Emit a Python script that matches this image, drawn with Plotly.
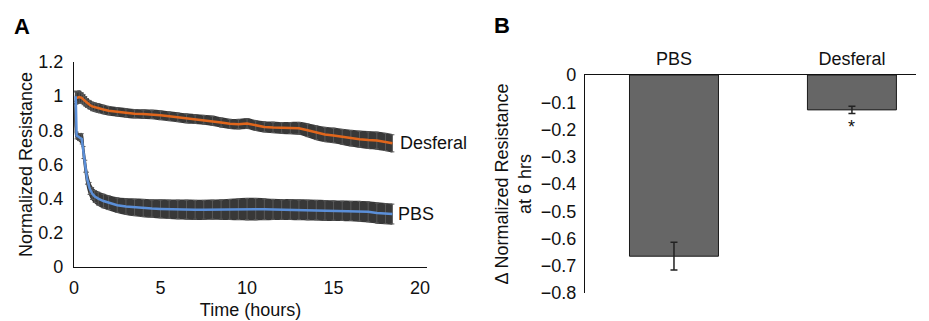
import plotly.graph_objects as go

# ---------------- Panel A data ----------------
time_h = [0.1, 0.15, 0.3, 0.45, 0.55, 0.65, 0.75, 0.9, 1.05, 1.2, 1.4, 1.7, 2.0, 2.5, 3.0,
          3.5, 4.0, 4.5, 5.0, 5.5, 6.0, 6.5, 7.0, 7.5, 8.0, 8.5, 9.0, 9.5, 10.0, 10.5,
          11.0, 11.5, 12.0, 12.5, 13.0, 13.5, 14.0, 14.5, 15.0, 15.5, 16.0, 16.5, 17.0,
          17.5, 18.0, 18.4]

pbs_mean = [1.00, 0.77, 0.76, 0.75, 0.67, 0.59, 0.52, 0.46, 0.43, 0.413, 0.40, 0.386,
            0.376, 0.362, 0.354, 0.349, 0.345, 0.342, 0.340, 0.338, 0.337, 0.336, 0.335,
            0.335, 0.336, 0.336, 0.337, 0.338, 0.339, 0.339, 0.338, 0.337, 0.336, 0.336,
            0.335, 0.334, 0.333, 0.331, 0.330, 0.329, 0.328, 0.326, 0.323, 0.316, 0.312,
            0.310]
pbs_err = [0.03, 0.02, 0.02, 0.03, 0.035, 0.035, 0.035, 0.035, 0.035, 0.035, 0.038, 0.04,
           0.04, 0.042, 0.045, 0.048, 0.05, 0.05, 0.052, 0.053, 0.054, 0.055, 0.055, 0.055,
           0.055, 0.056, 0.058, 0.06, 0.062, 0.062, 0.06, 0.058, 0.057, 0.057, 0.057,
           0.057, 0.057, 0.057, 0.056, 0.056, 0.056, 0.057, 0.058, 0.058, 0.058, 0.058]

des_mean = [0.99, 0.99, 0.995, 0.99, 0.98, 0.97, 0.96, 0.95, 0.94, 0.935, 0.93, 0.922,
            0.915, 0.908, 0.902, 0.897, 0.895, 0.893, 0.888, 0.882, 0.876, 0.870, 0.866,
            0.862, 0.856, 0.846, 0.838, 0.836, 0.840, 0.828, 0.820, 0.817, 0.814, 0.813,
            0.812, 0.800, 0.786, 0.776, 0.770, 0.762, 0.754, 0.748, 0.743, 0.740, 0.732,
            0.724]
des_err = [0.035, 0.035, 0.035, 0.03, 0.03, 0.028, 0.026, 0.025, 0.025, 0.025, 0.025,
           0.025, 0.024, 0.024, 0.024, 0.024, 0.024, 0.024, 0.025, 0.025, 0.025, 0.025,
           0.025, 0.025, 0.026, 0.026, 0.026, 0.027, 0.028, 0.028, 0.029, 0.03, 0.031,
           0.032, 0.034, 0.037, 0.04, 0.041, 0.042, 0.043, 0.045, 0.046, 0.048, 0.049,
           0.05, 0.05]

a_xticks = [0, 5, 10, 15, 20]
a_yticks = [0, 0.2, 0.4, 0.6, 0.8, 1.0, 1.2]
a_yticktext = ["0", "0.2", "0.4", "0.6", "0.8", "1", "1.2"]

# ---------------- Panel B data ----------------
groups = ["PBS", "Desferal"]
delta_6h = [-0.665, -0.128]
delta_err = [0.051, 0.013]
b_yticks = [0, -0.1, -0.2, -0.3, -0.4, -0.5, -0.6, -0.7, -0.8]
b_yticktext = ["0", "\u22120.1", "\u22120.2", "\u22120.3", "\u22120.4", "\u22120.5",
               "\u22120.6", "\u22120.7", "\u22120.8"]

FONT = "Liberation Sans, Arial, Helvetica, sans-serif"
BAND = "#383838"
STREAK = "#595959"
ORANGE = "#E0661C"
BLUE = "#5B8FD8"

fig = go.Figure()


def add_series(mean, err, color):
    upper = [m + e for m, e in zip(mean, err)]
    lower = [m - e for m, e in zip(mean, err)]
    fig.add_trace(go.Scatter(x=time_h, y=upper, mode="lines",
                             line=dict(color=BAND, width=1.5, shape="spline"),
                             hoverinfo="skip", showlegend=False, xaxis="x", yaxis="y"))
    fig.add_trace(go.Scatter(x=time_h, y=lower, mode="lines",
                             line=dict(color=BAND, width=1.5, shape="spline"),
                             fill="tonexty", fillcolor=BAND,
                             hoverinfo="skip", showlegend=False, xaxis="x", yaxis="y"))
    fig.add_trace(go.Scatter(x=time_h, y=mean, mode="lines",
                             line=dict(color=color, width=2.5),
                             error_y=dict(type="data", array=err, visible=True,
                                          color=STREAK, thickness=1, width=2),
                             showlegend=False, xaxis="x", yaxis="y"))


add_series(des_mean, des_err, ORANGE)
add_series(pbs_mean, pbs_err, BLUE)

fig.add_trace(go.Bar(x=groups, y=delta_6h, width=0.5,
                     marker=dict(color="#666666", line=dict(color="#1a1a1a", width=1)),
                     error_y=dict(type="data", array=delta_err, visible=True,
                                  color="#222222", thickness=1.5, width=3.5),
                     showlegend=False, xaxis="x2", yaxis="y2"))

fig.update_layout(
    template="none",
    width=929, height=321,
    margin=dict(l=0, r=0, t=0, b=0, autoexpand=False),
    paper_bgcolor="white", plot_bgcolor="white",
    font=dict(family=FONT, size=18, color="#111111"),
    showlegend=False,
    xaxis=dict(domain=[74 / 929, 427 / 929], range=[0, 20.4], automargin=False,
               tickvals=a_xticks, ticks="", showgrid=False, zeroline=False,
               showline=True, linecolor="#111111", linewidth=1.2,
               ticklabelstandoff=4,
               title=dict(text="Time (hours)", standoff=6, font=dict(size=18)),
               anchor="y", fixedrange=True),
    yaxis=dict(domain=[1 - 267 / 321, 1 - 62 / 321], range=[0, 1.2], automargin=False,
               tickvals=a_yticks, ticktext=a_yticktext, ticks="", showgrid=False,
               zeroline=False, showline=True, linecolor="#111111", linewidth=1.2,
               ticklabelstandoff=6,
               title=dict(text="Normalized Resistance", standoff=0, font=dict(size=18)),
               anchor="x", fixedrange=True),
    xaxis2=dict(domain=[585 / 929, 916 / 929], range=[-0.5, 1.36], type="category",
                automargin=False,
                side="top", ticks="", showgrid=False, zeroline=False,
                showline=True, linecolor="#111111", linewidth=1.2,
                ticklabelstandoff=2, anchor="y2", fixedrange=True),
    yaxis2=dict(domain=[1 - 293 / 321, 1 - 75 / 321], range=[-0.8, 0], automargin=False,
                tickvals=b_yticks, ticktext=b_yticktext, ticks="", showgrid=False,
                zeroline=False, showline=True, linecolor="#111111", linewidth=1.2,
                ticklabelstandoff=4,
                title=dict(text="\u0394 Normalized Resistance<br>at 6 hrs", standoff=4,
                           font=dict(size=18)),
                anchor="x2", fixedrange=True),
    annotations=[
        dict(text="<b>A</b>", x=12 / 929, y=1 - 26 / 321, xref="paper", yref="paper",
             xanchor="left", yanchor="middle", showarrow=False,
             font=dict(size=22, color="#000000")),
        dict(text="<b>B</b>", x=492 / 929, y=1 - 25 / 321, xref="paper", yref="paper",
             xanchor="left", yanchor="middle", showarrow=False,
             font=dict(size=22, color="#000000")),
        dict(text="Desferal", x=18.7, y=des_mean[-1], xref="x", yref="y",
             xanchor="left", yanchor="middle", showarrow=False),
        dict(text="PBS", x=18.6, y=pbs_mean[-1], xref="x", yref="y",
             xanchor="left", yanchor="middle", showarrow=False),
        dict(text="*", x="Desferal", y=-0.19, xref="x2", yref="y2",
             xanchor="center", yanchor="middle", showarrow=False,
             font=dict(size=18)),
    ],
)

fig.write_html("out.html", config={"displayModeBar": False},
               post_script="document.body.style.margin='0';document.body.style.overflow='hidden';")
